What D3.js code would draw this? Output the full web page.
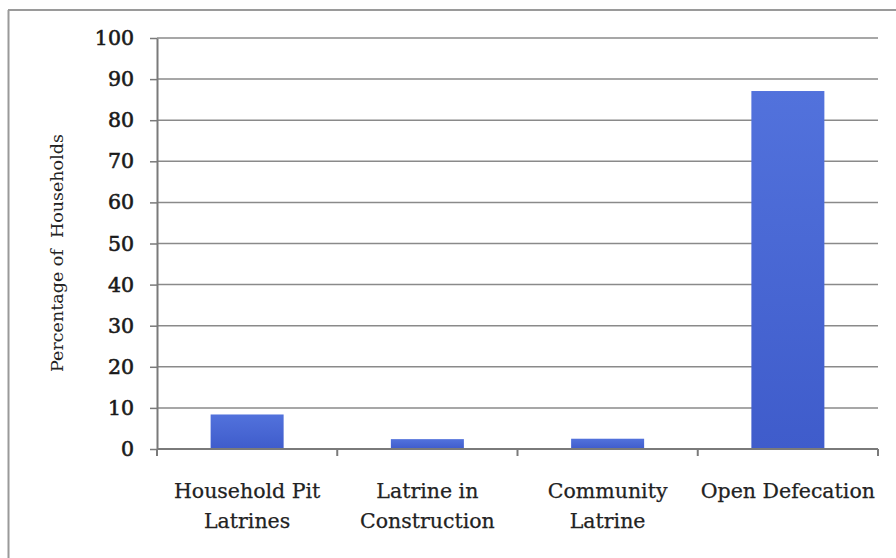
<!DOCTYPE html>
<html>
<head>
<meta charset="utf-8">
<script src="https://cdn.jsdelivr.net/npm/d3@7/dist/d3.min.js"></script>
<style>
  html, body { margin: 0; padding: 0; background: #fff; }
  svg { display: block; }
</style>
</head>
<body>
<svg id="chart" width="896" height="558"></svg>
<script>
// Sanitation categories and share of households (%)
const categories = [
  ["Household Pit", "Latrines"],
  ["Latrine in", "Construction"],
  ["Community", "Latrine"],
  ["Open Defecation"]
];
const values = [8.4, 2.4, 2.5, 87.1];
const yTicks = [0, 10, 20, 30, 40, 50, 60, 70, 80, 90, 100];
const yTitle = "Percentage of  Households";

const svg = d3.select("#chart");
const W = 896, H = 558;
const plotLeft = 157, plotRight = 878, plotTop = 38, plotBottom = 449;
const font = "'DejaVu Serif', 'Liberation Serif', serif";

// Gradient for the bars
const defs = svg.append("defs");
const grad = defs.append("linearGradient").attr("id", "barGrad")
  .attr("x1", 0).attr("y1", 0).attr("x2", 0).attr("y2", 1);
grad.append("stop").attr("offset", "0%").attr("stop-color", "#5272dc");
grad.append("stop").attr("offset", "100%").attr("stop-color", "#3f5ccb");

// Frame (top and left edges)
svg.append("line").attr("x1", 8).attr("x2", W).attr("y1", 10).attr("y2", 10)
  .attr("stroke", "#9a9a9a").attr("stroke-width", 2);
svg.append("line").attr("x1", 8.5).attr("x2", 8.5).attr("y1", 10).attr("y2", H)
  .attr("stroke", "#9a9a9a").attr("stroke-width", 2);

const x = d3.scaleBand().domain(d3.range(categories.length)).range([plotLeft, plotRight]).paddingInner(0).paddingOuter(0);
const y = d3.scaleLinear().domain([0, 100]).range([plotBottom, plotTop]);

// Horizontal gridlines
svg.append("g").selectAll("line").data(yTicks.filter(d => d > 0)).join("line")
  .attr("x1", plotLeft).attr("x2", plotRight)
  .attr("y1", d => y(d)).attr("y2", d => y(d))
  .attr("stroke", "#8a8a8a").attr("stroke-width", 1.5);

// Bars
const bw = x.bandwidth() * 0.405;
svg.append("g").selectAll("rect").data(values).join("rect")
  .attr("x", (d, i) => x(i) + x.bandwidth() / 2 - bw / 2)
  .attr("width", bw)
  .attr("y", d => y(d))
  .attr("height", d => y(0) - y(d))
  .attr("fill", "url(#barGrad)");

// Y axis
const yAxis = d3.axisLeft(y).tickValues(yTicks).tickSize(7).tickPadding(16).tickSizeOuter(0);
const gy = svg.append("g").attr("transform", `translate(${plotLeft},0)`).call(yAxis);
gy.select(".domain").attr("stroke", "#7a7a7a").attr("stroke-width", 2);
gy.selectAll(".tick line").attr("stroke", "#7a7a7a").attr("stroke-width", 1.5);
gy.selectAll(".tick text")
  .attr("font-family", font)
  .attr("font-size", 20.5).attr("fill", "#1a1a1a")
  .attr("stroke", "#1a1a1a").attr("stroke-width", 0.6);

// X axis baseline and category boundary ticks
const gx = svg.append("g");
gx.append("line").attr("x1", plotLeft).attr("x2", plotRight).attr("y1", plotBottom).attr("y2", plotBottom)
  .attr("stroke", "#7a7a7a").attr("stroke-width", 2);
const bounds = d3.range(categories.length + 1).map(i => i < categories.length ? x(i) : x(i - 1) + x.bandwidth());
gx.selectAll("line.tk").data(bounds).join("line").attr("class", "tk")
  .attr("x1", d => d).attr("x2", d => d).attr("y1", plotBottom).attr("y2", plotBottom + 7)
  .attr("stroke", "#7a7a7a").attr("stroke-width", 2);

// Category labels
const lab = svg.append("g").selectAll("text").data(categories).join("text")
  .attr("text-anchor", "middle")
  .attr("font-family", font)
  .attr("font-size", 20.5).attr("fill", "#222")
  .attr("stroke", "#222").attr("stroke-width", 0.25);
lab.each(function(lines, i) {
  const t = d3.select(this);
  lines.forEach((s, k) => {
    t.append("tspan").attr("x", x(i) + x.bandwidth() / 2).attr("y", 498 + k * 30).text(s);
  });
});

// Y axis title
svg.append("text")
  .attr("transform", `translate(63,253) rotate(-90)`)
  .attr("text-anchor", "middle")
  .attr("font-family", font)
  .attr("font-size", 17.5).attr("fill", "#222")
  .attr("xml:space", "preserve")
  .text(yTitle);
</script>
</body>
</html>
